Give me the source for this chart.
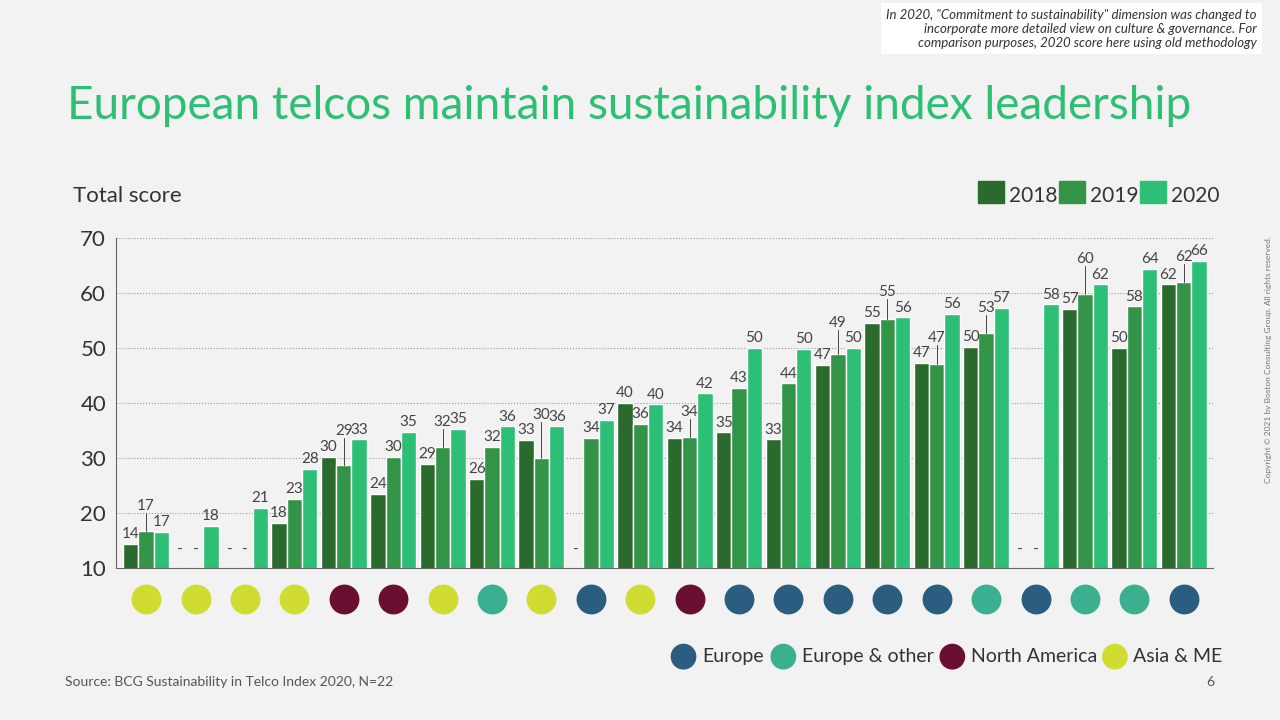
import numpy as np, pandas as pd, matplotlib
matplotlib.use("Agg")
import matplotlib.pyplot as plt, seaborn as sns

sns.set_style("white")
plt.rcParams['font.family'] = ['Lato', 'DejaVu Sans']

v2018 = [14.4, None, None, 18.2, 30.3, 23.5, 29.0, 26.2, 33.3, None, 40.0, 33.7, 34.7, 33.4, 47.0, 54.6, 47.3, 50.2, None, 57.2, 50.0, 61.6]
v2019 = [16.8, None, None, 22.6, 28.7, 30.3, 32.0, 32.0, 30.1, 33.7, 36.3, 33.8, 42.8, 43.6, 48.9, 55.4, 47.1, 52.8, None, 59.8, 57.6, 62.1]
v2020 = [16.6, 17.7, 21.0, 28.1, 33.4, 34.8, 35.3, 35.8, 35.8, 37.0, 39.8, 41.8, 50.1, 49.9, 50.1, 55.6, 56.2, 57.4, 58.0, 61.6, 64.4, 65.9]
regions = ["Asia & ME"]*4 + ["North America"]*2 + ["Asia & ME", "Europe & other", "Asia & ME", "Europe", "Asia & ME", "North America",
           "Europe", "Europe", "Europe", "Europe", "Europe", "Europe & other", "Europe", "Europe & other", "Europe & other", "Europe"]
years = ["2018", "2019", "2020"]
year_colors = {"2018": "#2a6a2c", "2019": "#339448", "2020": "#2dbf76"}
region_colors = {"Europe": "#2a5d7f", "Europe & other": "#3bb090", "North America": "#6a0f32", "Asia & ME": "#d0dc32"}

n = len(v2020)
rows = []
for i in range(n):
    for y, arr in zip(years, [v2018, v2019, v2020]):
        rows.append({"company": i, "year": y, "score": np.nan if arr[i] is None else arr[i]})
df = pd.DataFrame(rows)

fig = plt.figure(figsize=(12.8, 7.2), dpi=100, facecolor="#f2f2f2")
ax = fig.add_axes([0.091, 0.211, 0.857, 0.458])
ax.set_facecolor("#f2f2f2")
sns.barplot(data=df, x="company", y="score", hue="year", palette=year_colors, ax=ax,
            width=0.93, saturation=1, legend=False)
ax.set_ylim(10, 70)
ax.set_xlim(-0.6, n - 0.4)
ax.set_yticks(range(10, 71, 10))
ax.tick_params(axis="y", labelsize=16, colors="#333333", length=4)
ax.set_xticks([])
ax.set_xlabel(""); ax.set_ylabel("")
ax.grid(axis="y", linestyle=":", color="#999999", linewidth=0.8)
ax.set_axisbelow(True)
for s in ["top", "right"]:
    ax.spines[s].set_visible(False)
ax.spines["left"].set_color("#666666"); ax.spines["bottom"].set_color("#666666")

w = 0.31
for i in range(n):
    vals = [v2018[i], v2019[i], v2020[i]]
    ys = [None if v is None else v + 0.5 for v in vals]
    if vals[1] is not None:
        near = [vals[j] for j in (0, 2) if vals[j] is not None and abs(vals[j] - vals[1]) < 3.2]
        if near:
            ys[1] = max(near + [vals[1]]) + 3.3
    for k in range(3):
        x = i + (k - 1) * w
        if vals[k] is None:
            if k < 2:
                ax.text(x, 12, "-", ha="center", va="bottom", fontsize=11, color="#444444")
        else:
            ax.text(x, ys[k], f"{round(vals[k])}", ha="center", va="bottom", fontsize=11, color="#444444")
            if ys[k] > vals[k] + 1:
                ax.plot([x, x], [vals[k], ys[k]], color="#444444", lw=0.7)
    ax.scatter(i, 4.3, s=420, color=region_colors[regions[i]], clip_on=False, zorder=5)

fig.text(0.052, 0.835, "European telcos maintain sustainability index leadership", fontsize=33, color="#2dbf73")
fig.text(0.057, 0.72, "Total score", fontsize=16, color="#333333")
lx = 0.764
for y in years:
    fig.patches.append(plt.Rectangle((lx, 0.718), 0.02, 0.03, transform=fig.transFigure, color=year_colors[y]))
    fig.text(lx + 0.024, 0.72, y, fontsize=15, color="#333333")
    lx += 0.0635
items = [("Europe", 0.534), ("Europe & other", 0.612), ("North America", 0.744), ("Asia & ME", 0.871)]
for name, x in items:
    fig.patches.append(matplotlib.patches.Ellipse((x, 0.088), 0.019, 0.034, transform=fig.transFigure, color=region_colors[name]))
    fig.text(x + 0.0145, 0.088, name, fontsize=14, color="#333333", va="center")
fig.text(0.051, 0.047, "Source: BCG Sustainability in Telco Index 2020, N=22", fontsize=10, color="#555555")
fig.text(0.942, 0.047, "6", fontsize=10, color="#555555")
fig.text(0.988, 0.5, "Copyright © 2021 by Boston Consulting Group. All rights reserved.", fontsize=6,
         rotation=90, color="#777777", va="center")
fig.text(0.982, 0.988, 'In 2020, "Commitment to sustainability" dimension was changed to\n'
         'incorporate more detailed view on culture & governance. For\n'
         'comparison purposes, 2020 score here using old methodology',
         fontsize=9.5, style="italic", ha="right", va="top", color="#333333",
         bbox=dict(facecolor="white", edgecolor="none", boxstyle="square,pad=0.4"))
fig.savefig("out.png", dpi=100, facecolor=fig.get_facecolor())
